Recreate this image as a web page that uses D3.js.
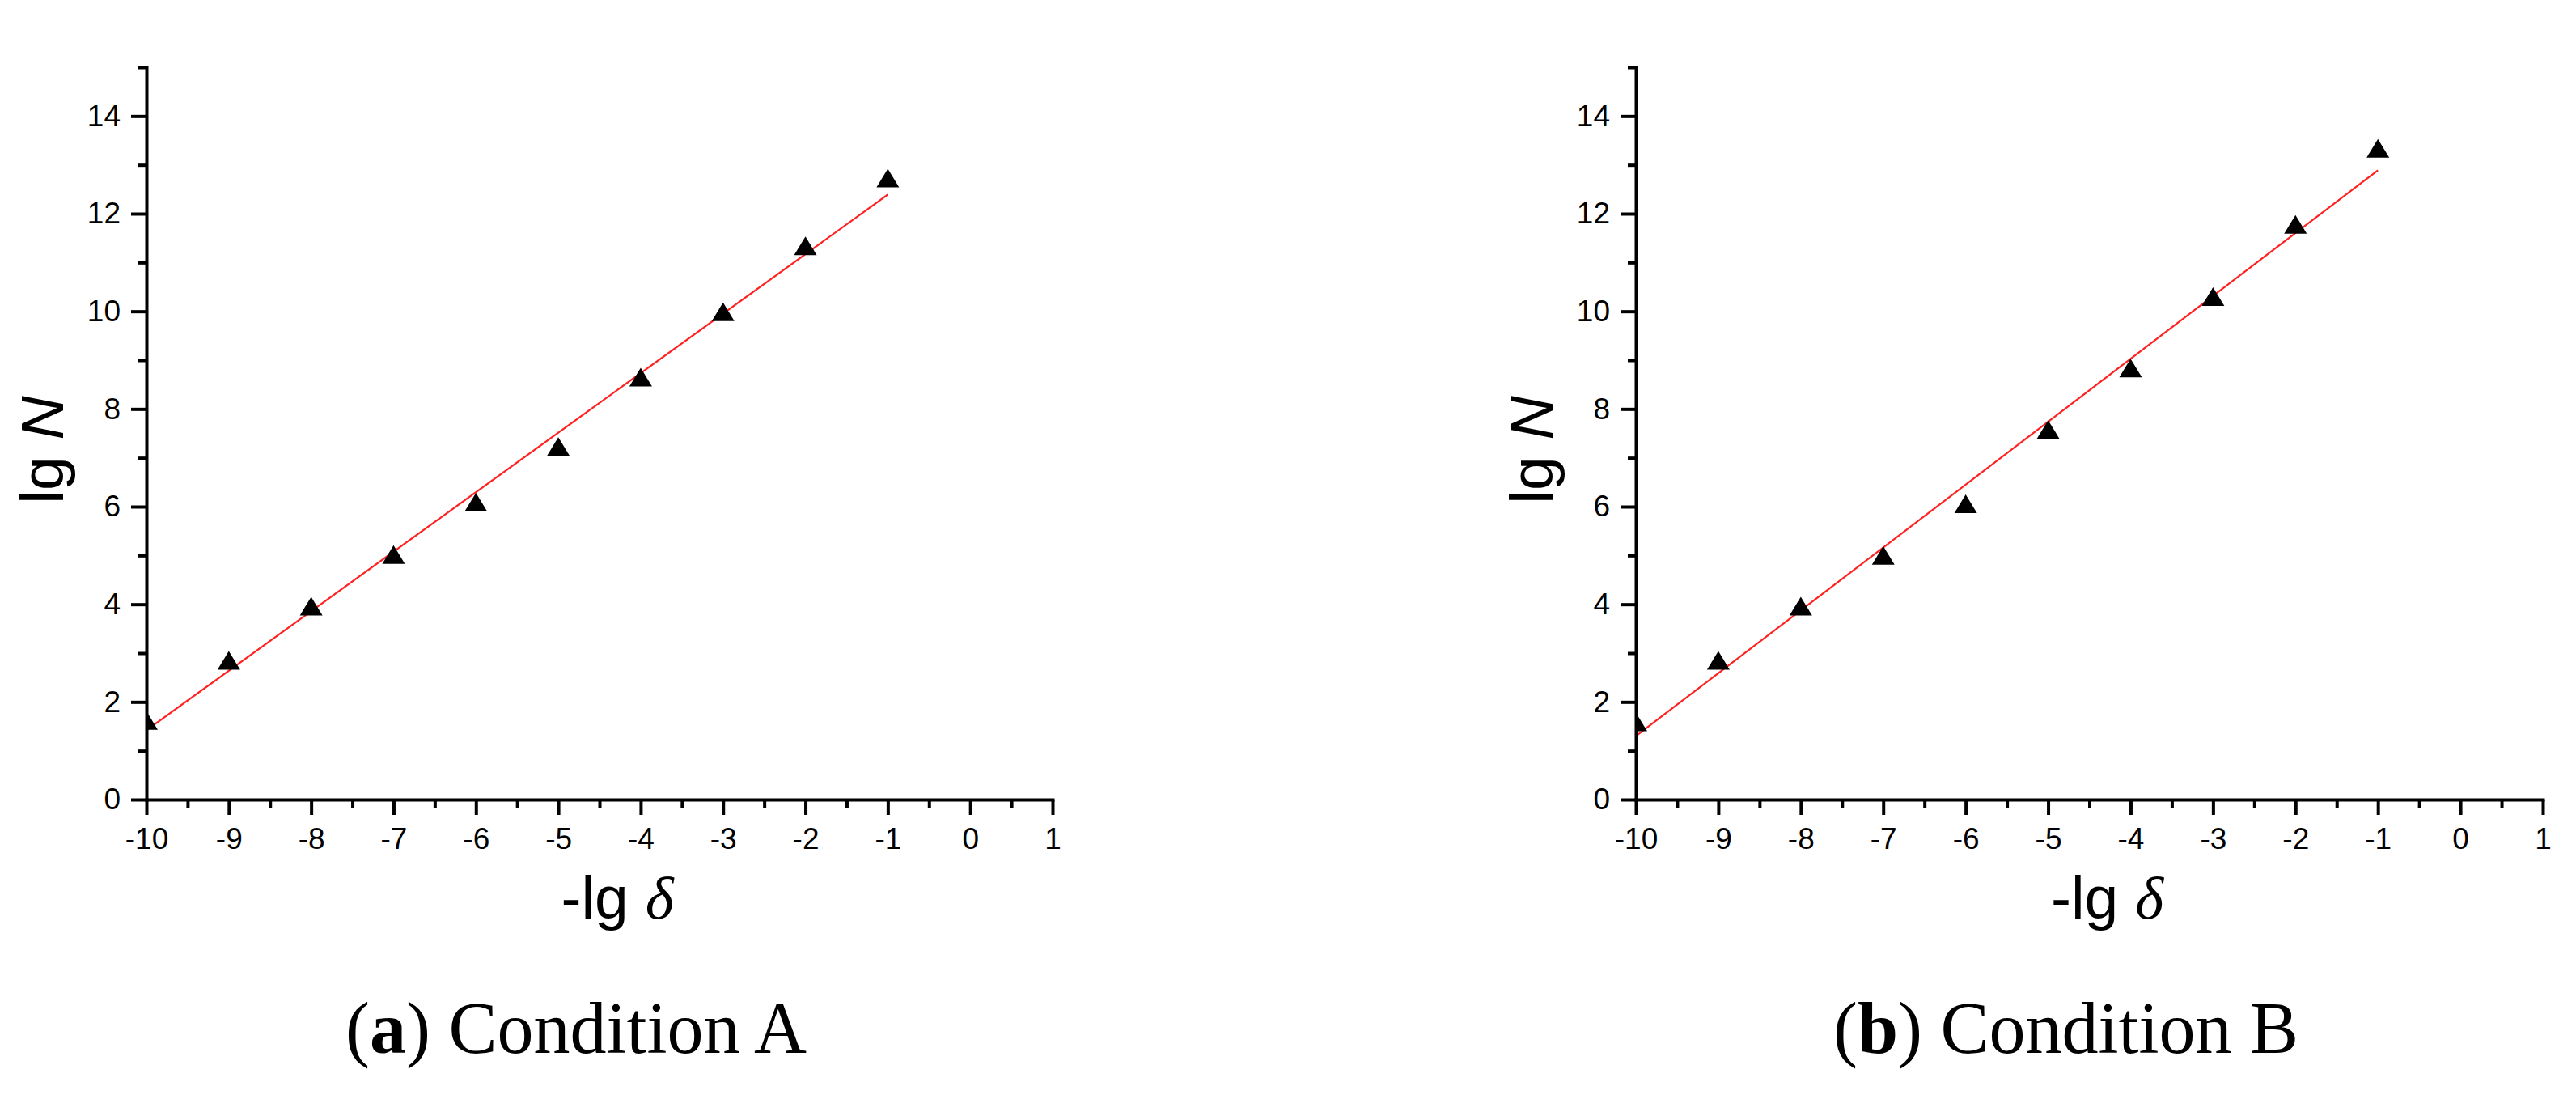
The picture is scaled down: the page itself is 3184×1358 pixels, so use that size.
<!DOCTYPE html>
<html>
<head>
<meta charset="utf-8">
<script src="https://cdn.jsdelivr.net/npm/d3@7"></script>
<style>
  body { margin: 0; background: #fff; }
  svg { display: block; }
  .tick text { font-family: "Liberation Sans", Arial, sans-serif; font-size: 37px; fill: #000; }
  .axis path, .axis line { stroke: #000; stroke-width: 4px; }
</style>
</head>
<body>
<div id="chart"></div>
<script>
// x values (-lg delta)
var xVals = [-10, -9, -8, -7, -6, -5, -4, -3, -2, -1];
// lg N, condition A
var lgNA = [1.62, 2.85, 3.96, 5.02, 6.09, 7.23, 8.65, 9.99, 11.34, 12.73];
// lg N, condition B
var lgNB = [1.59, 2.85, 3.96, 5.00, 6.06, 7.58, 8.84, 10.30, 11.78, 13.34];
// fitted line end points [x, y]
var fitA = [[-10, 1.42], [-1, 12.39]];
var fitB = [[-10, 1.30], [-1, 12.89]];

var xMajor = [-10, -9, -8, -7, -6, -5, -4, -3, -2, -1, 0, 1];
var xMinor = [-9.5, -8.5, -7.5, -6.5, -5.5, -4.5, -3.5, -2.5, -1.5, -0.5, 0.5];
var yMajor = [0, 2, 4, 6, 8, 10, 12, 14];
var yMinor = [1, 3, 5, 7, 9, 11, 13, 15];

(function () {

    var panels = [
        { id: 'a', label: 'a', name: ' Condition A', y: lgNA, fit: fitA, left: 181, right: 1301 },
        { id: 'b', label: 'b', name: ' Condition B', y: lgNB, fit: fitB, left: 2022, right: 3143 }
    ];

    var W = 3184, H = 1358;
    var yTop = 83, yBottom = 988;

    var svg = d3.select('#chart').append('svg')
        .attr('width', W)
        .attr('height', H);

    svg.append('rect').attr('width', W).attr('height', H).attr('fill', '#fff');

    panels.forEach(function (p) {

        var x = d3.scaleLinear().domain([-10, 1]).range([p.left, p.right]);
        var y = d3.scaleLinear().domain([0, 15]).range([yBottom, yTop]);

        var g = svg.append('g').attr('class', 'panel-' + p.id);

        // clip so the first marker is cut at the y axis
        g.append('clipPath')
            .attr('id', 'clip-' + p.id)
            .append('rect')
            .attr('x', p.left)
            .attr('y', 0)
            .attr('width', p.right - p.left + 40)
            .attr('height', yBottom);

        var plot = g.append('g').attr('clip-path', 'url(#clip-' + p.id + ')');

        plot.append('path')
            .datum(p.fit)
            .attr('fill', 'none')
            .attr('stroke', '#ff2020')
            .attr('stroke-width', 2.2)
            .attr('d', d3.line()
                .x(function (d) { return x(d[0]); })
                .y(function (d) { return y(d[1]); }));

        plot.selectAll('path.pt')
            .data(xVals)
            .enter().append('path')
            .attr('class', 'pt')
            .attr('fill', '#000')
            .attr('d', function (d, i) {
                var cx = x(d), cy = y(p.y[i]);
                return 'M' + (cx - 14) + ',' + (cy + 11.5) +
                    'L' + cx + ',' + (cy - 11.5) +
                    'L' + (cx + 14) + ',' + (cy + 11.5) + 'Z';
            });

        // minor ticks
        g.append('g')
            .attr('class', 'axis')
            .attr('transform', 'translate(0,' + yBottom + ')')
            .call(d3.axisBottom(x).tickValues(xMinor).tickSize(10).tickFormat(''))
            .select('.domain').remove();

        g.append('g')
            .attr('class', 'axis')
            .attr('transform', 'translate(' + p.left + ',0)')
            .call(d3.axisLeft(y).tickValues(yMinor).tickSize(10).tickFormat(''))
            .select('.domain').remove();

        // major ticks + labels
        g.append('g')
            .attr('class', 'axis')
            .attr('transform', 'translate(0,' + yBottom + ')')
            .call(d3.axisBottom(x).tickValues(xMajor).tickSize(19).tickSizeOuter(0).tickPadding(16)
                .tickFormat(function (d) { return d < 0 ? '-' + Math.abs(d) : d; }));

        g.append('g')
            .attr('class', 'axis')
            .attr('transform', 'translate(' + p.left + ',0)')
            .call(d3.axisLeft(y).tickValues(yMajor).tickSize(19).tickSizeOuter(0).tickPadding(13));

        g.selectAll('.axis .domain').attr('stroke-linecap', 'square');

        // y axis title
        var yt = g.append('text')
            .attr('transform', 'translate(' + (p.left - 103) + ',556) rotate(-90)')
            .attr('text-anchor', 'middle')
            .style('font-family', '"Liberation Sans", Arial, sans-serif')
            .style('font-size', '75px');
        yt.append('tspan').text('lg ');
        yt.append('tspan').style('font-style', 'italic').text('N');

        // x axis title
        var xt = g.append('text')
            .attr('x', (p.left + p.right) / 2 + 22)
            .attr('y', 1135)
            .attr('text-anchor', 'middle')
            .style('font-family', '"Liberation Sans", Arial, sans-serif')
            .style('font-size', '75px');
        xt.append('tspan').text('-lg ');
        xt.append('tspan')
            .style('font-family', '"Liberation Serif", "Times New Roman", serif')
            .style('font-style', 'italic')
            .text('δ');

        // caption
        var cap = g.append('text')
            .attr('x', (p.left + p.right) / 2 - 29)
            .attr('y', 1301)
            .attr('text-anchor', 'middle')
            .style('font-family', '"Liberation Serif", "Times New Roman", serif')
            .style('font-size', '90px');
        cap.append('tspan').text('(');
        cap.append('tspan').style('font-weight', 'bold').text(p.label);
        cap.append('tspan').text(')' + p.name);
    });

})();
</script>
</body>
</html>
